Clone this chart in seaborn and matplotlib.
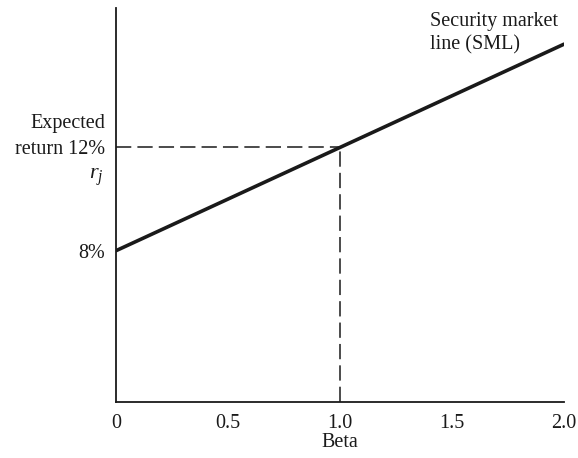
import matplotlib
matplotlib.use("Agg")
import matplotlib.pyplot as plt
import numpy as np
import pandas as pd
import seaborn as sns

# security market line data
beta = [0.0, 1.0, 2.0]
expected_return = [8.0, 12.0, 16.0]
x_ticks = [0.0, 0.5, 1.0, 1.5, 2.0]
x_tick_labels = ["0", "0.5", "1.0", "1.5", "2.0"]
y_ticks = [8.0, 12.0]
y_tick_labels = ["8%", "return 12%"]
marked_beta = 1.0
marked_return = 12.0

sns.set_theme(style="white")
plt.rcParams["font.family"] = ["Liberation Serif", "DejaVu Serif"]
plt.rcParams["mathtext.fontset"] = "custom"
plt.rcParams["mathtext.it"] = "Liberation Serif:italic"
plt.rcParams["mathtext.rm"] = "Liberation Serif"

fig = plt.figure(figsize=(5.78, 4.58), dpi=100)
ax = fig.add_axes([0.2007, 0.1223, 0.7751, 0.8602])

df = pd.DataFrame({"Beta": beta, "Return": expected_return})
sns.lineplot(data=df, x="Beta", y="Return", color="#1a1a1a", linewidth=2.6, ax=ax)

ymin, ymax = 2.14, 17.4
ax.plot([0, marked_beta], [marked_return, marked_return], color="#1a1a1a",
        linewidth=1.1, dashes=(10, 4))
ax.plot([marked_beta, marked_beta], [ymin, marked_return], color="#1a1a1a",
        linewidth=1.1, dashes=(10, 4))

fs = 14.5
ax.set_xlim(0, 2.0)
ax.set_ylim(ymin, ymax)
ax.set_xticks(x_ticks)
ax.set_xticklabels(x_tick_labels, fontsize=fs)
ax.set_yticks(y_ticks)
ax.set_yticklabels(y_tick_labels, fontsize=fs)
ax.tick_params(axis="x", direction="in", length=8, width=1.1, pad=9, colors="#1a1a1a")
ax.tick_params(axis="y", length=0, pad=8, colors="#1a1a1a")
ax.set_xlabel("Beta", fontsize=fs, color="#1a1a1a", labelpad=0)
ax.set_ylabel("")

ax.annotate("Expected", xy=(0, marked_return), xytext=(-8, 17.5),
            textcoords="offset points", xycoords="data", ha="right", va="center",
            fontsize=fs, color="#1a1a1a")
ax.annotate(r"$r_j$", xy=(0, marked_return), xytext=(-9, -21.5),
            textcoords="offset points", xycoords="data", ha="right", va="center",
            fontsize=16, color="#1a1a1a")
ax.text(1.40, ymax - 0.15, "Security market\nline (SML)", ha="left", va="top",
        fontsize=fs, color="#1a1a1a", linespacing=1.3)

for side in ["top", "right"]:
    ax.spines[side].set_visible(False)
for side in ["left", "bottom"]:
    ax.spines[side].set_color("#1a1a1a")
    ax.spines[side].set_linewidth(1.3)

fig.savefig("out.png", dpi=100)
